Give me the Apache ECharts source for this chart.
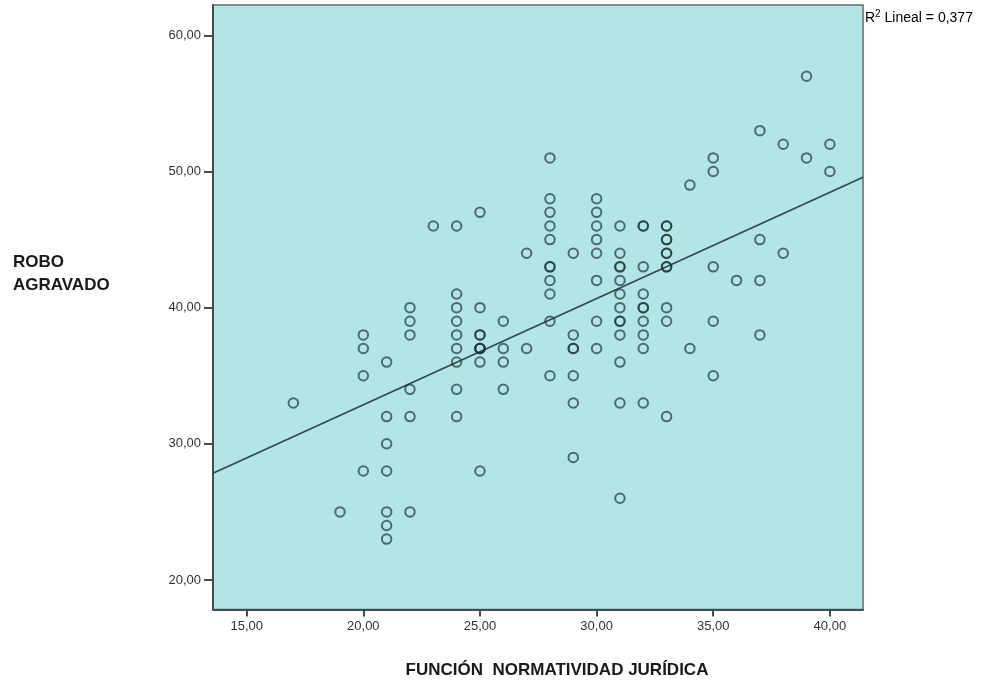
<!DOCTYPE html>
<html>
<head>
<meta charset="utf-8">
<script src="https://cdn.jsdelivr.net/npm/echarts@6/dist/echarts.min.js"></script>
<style>
html,body{margin:0;padding:0;background:#fff;}
#chart{width:983px;height:681px;}
</style>
</head>
<body>
<div id="chart"></div>
<script>
// X levels (FUNCIÓN NORMATIVIDAD JURÍDICA) and the ROBO AGRAVADO values observed at each level
const xLevels = [17, 19, 20, 21, 22, 23, 24, 25, 26, 27, 28, 29, 30, 31, 32, 33, 34, 35, 36, 37, 38, 39, 40];
const yAtLevel = [
  [33],
  [25],
  [38, 37, 35, 28],
  [36, 32, 30, 28, 25, 24, 23],
  [40, 39, 38, 34, 32, 25],
  [46],
  [46, 41, 40, 39, 38, 37, 36, 34, 32],
  [47, 40, 38, 38, 37, 37, 37, 36, 28],
  [39, 37, 36, 34],
  [44, 37],
  [51, 48, 47, 46, 45, 43, 43, 42, 41, 39, 35],
  [44, 38, 37, 37, 35, 33, 29],
  [48, 47, 46, 45, 44, 42, 39, 37],
  [46, 44, 43, 43, 42, 41, 40, 39, 39, 38, 36, 33, 26],
  [46, 46, 43, 41, 40, 40, 39, 38, 37, 33],
  [46, 46, 45, 45, 44, 44, 43, 43, 40, 39, 32],
  [49, 37],
  [51, 50, 43, 39, 35],
  [42],
  [53, 45, 42, 38],
  [52, 44],
  [57, 51],
  [52, 50]
];
// Fit line end points (at the plot edges)
const fitX = [13.556, 41.42];
const fitY = [27.84, 49.58];
const xTicks = [15, 20, 25, 30, 35, 40];
const yTicks = [20, 30, 40, 50, 60];
const xRange = [13.556, 41.42];
const yRange = [17.83, 62.23];
const r2Text = '0,377';
const xTitle = 'FUNCIÓN  NORMATIVIDAD JURÍDICA';
const yTitle = 'ROBO\nAGRAVADO';

const points = [];
xLevels.forEach((x, i) => yAtLevel[i].forEach(y => points.push([x, y])));
const fitLine = fitX.map((x, i) => [x, fitY[i]]);

const fmt = v => v.toFixed(2).replace('.', ',');
const FONT = '"Liberation Sans", Arial, sans-serif';
const chart = echarts.init(document.getElementById('chart'), null, {renderer: 'canvas'});
chart.setOption({
  animation: false,
  backgroundColor: '#ffffff',
  grid: {left: 213, top: 5, width: 650, height: 604.5, show: true,
         backgroundColor: '#b3e5e6', borderColor: '#5e6e6e', borderWidth: 1.5},
  xAxis: {
    type: 'value', min: xRange[0], max: xRange[1],
    axisLine: {show: true, onZero: false, lineStyle: {color: '#3f4f4f', width: 2}},
    axisTick: {show: true, customValues: xTicks, length: 7, lineStyle: {color: '#3f4f4f', width: 2}},
    axisLabel: {customValues: xTicks, formatter: fmt, color: '#333', fontFamily: FONT, fontSize: 13, margin: 10},
    splitLine: {show: false}
  },
  yAxis: {
    type: 'value', min: yRange[0], max: yRange[1],
    axisLine: {show: true, onZero: false, lineStyle: {color: '#3f4f4f', width: 2}},
    axisTick: {show: true, customValues: yTicks, length: 9, lineStyle: {color: '#3f4f4f', width: 2}},
    axisLabel: {customValues: yTicks, formatter: fmt, color: '#333', fontFamily: FONT, fontSize: 13, margin: 12},
    splitLine: {show: false}
  },
  series: [
    {
      type: 'line', data: fitLine, symbol: 'none', silent: true, clip: true,
      lineStyle: {color: '#2f4d4d', width: 1.8}, z: 2
    },
    {
      type: 'scatter', data: points, symbol: 'circle', symbolSize: 9.5,
      itemStyle: {color: 'rgba(0,0,0,0)', borderColor: 'rgba(22,52,52,0.85)', borderWidth: 2},
      z: 3
    }
  ],
  graphic: [
    {type: 'text', left: 13, top: 251, style: {text: yTitle, font: 'bold 17px ' + FONT, fill: '#1a1a1a', lineHeight: 23}},
    {type: 'text', x: 557, y: 670, style: {text: xTitle, font: 'bold 17px ' + FONT, fill: '#1a1a1a', align: 'center', verticalAlign: 'middle'}},
    {type: 'text', x: 865, y: 18, style: {
      text: '{a|R}{s|2}{a| Lineal = ' + r2Text + '}',
      verticalAlign: 'middle',
      rich: {
        a: {fontFamily: FONT, fontSize: 14, color: '#222'},
        s: {fontFamily: FONT, fontSize: 10, color: '#222', verticalAlign: 'top', padding: [0, 0, 7, 0]}
      }
    }}
  ]
});
</script>
</body>
</html>
